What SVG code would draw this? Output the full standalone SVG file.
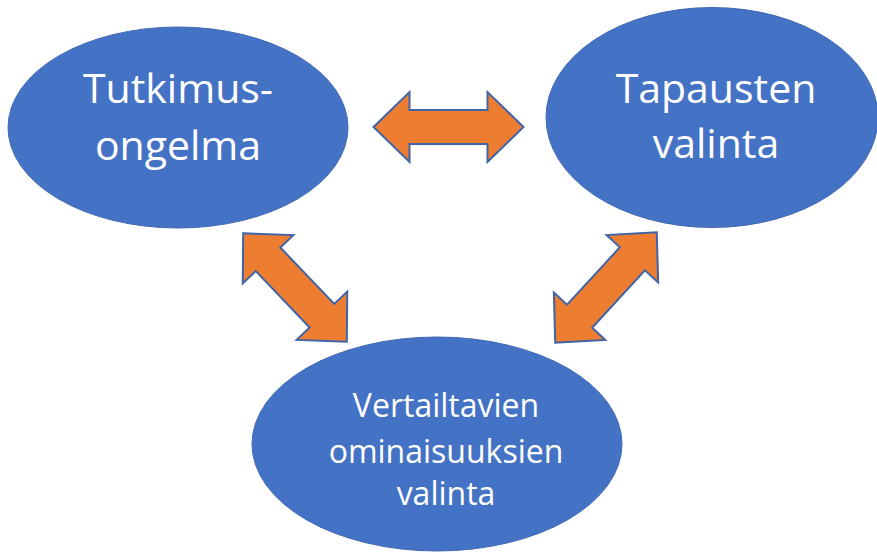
<svg xmlns="http://www.w3.org/2000/svg" xmlns:xlink="http://www.w3.org/1999/xlink" width="877" height="554" viewBox="0 0 877 554">
<style>
.node{fill:#4472C4;stroke:#4068B4;stroke-width:1}
.lbl{fill:#FFFFFF;font-family:"Open Sans",Lato,"Liberation Sans",sans-serif;text-anchor:middle}
.big{font-size:41px}
.small{font-size:32px}
.arrow{fill:#ED7D31;stroke:#3F64A8;stroke-width:2;stroke-linejoin:miter}
</style>
<defs>
<path id="dblArrow" d="M-75,0 L-39,-35 L-39,-17 L39,-17 L39,-35 L75,0 L39,35 L39,17 L-39,17 L-39,35 Z"/>
</defs>
<rect width="877" height="554" fill="#FFFFFF"/>
<g id="connectors">
<use xlink:href="#dblArrow" class="arrow" transform="translate(448.5,127)"/>
<use xlink:href="#dblArrow" class="arrow" transform="translate(295,287.5) rotate(46.3)"/>
<use xlink:href="#dblArrow" class="arrow" transform="translate(606,287.5) rotate(-47.4)"/>
</g>
<g id="node-tutkimusongelma">
<ellipse class="node" cx="178" cy="127.5" rx="170" ry="100.5"/>
<text class="lbl big" x="178" y="103">Tutkimus-</text>
<text class="lbl big" x="178" y="160">ongelma</text>
</g>
<g id="node-tapausten-valinta">
<ellipse class="node" cx="712" cy="117.5" rx="166" ry="110"/>
<text class="lbl big" x="716" y="103">Tapausten</text>
<text class="lbl big" x="716" y="158">valinta</text>
</g>
<g id="node-vertailtavien">
<ellipse class="node" cx="437" cy="444" rx="185" ry="107"/>
<text class="lbl small" x="446" y="417">Vertailtavien</text>
<text class="lbl small" x="446" y="463">ominaisuuksien</text>
<text class="lbl small" x="446" y="505">valinta</text>
</g>
</svg>
